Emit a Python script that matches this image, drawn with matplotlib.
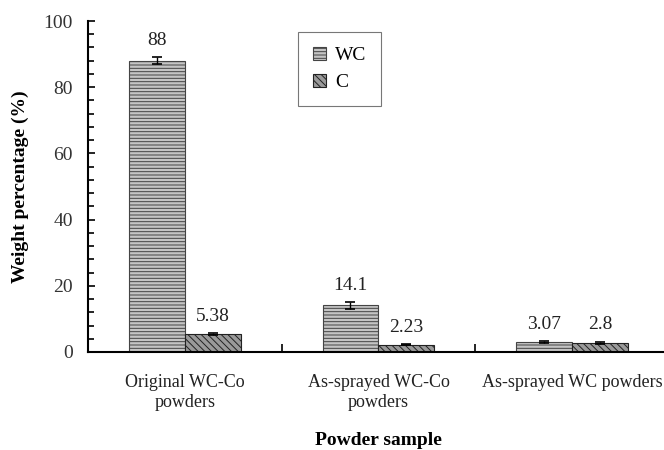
import matplotlib.pyplot as plt
import numpy as np

plt.rcParams['font.family'] = ['Liberation Serif', 'DejaVu Serif']
plt.rcParams['hatch.linewidth'] = 0.7

samples = ['Original WC-Co\npowders', 'As-sprayed WC-Co\npowders', 'As-sprayed WC powders']
wc = [88, 14.1, 3.07]
c = [5.38, 2.23, 2.8]
wc_err = [1.0, 1.0, 0.3]
c_err = [0.3, 0.2, 0.3]
wc_labels = ['88', '14.1', '3.07']
c_labels = ['5.38', '2.23', '2.8']

fig = plt.figure(figsize=(6.64, 4.5), dpi=100)
ax = fig.add_axes([0.1325, 0.2178, 0.8750, 0.7355])

x = np.arange(len(samples))
w = 0.289

plt.rcParams['hatch.color'] = '#6a6a6a'
ax.bar(x - w / 2, wc, w, color='#c4c4c4', edgecolor='#444444', hatch='-----',
       linewidth=0.8, label='WC', yerr=wc_err, capsize=3.5,
       error_kw=dict(elinewidth=1, capthick=1.2, ecolor='black'))
plt.rcParams['hatch.color'] = '#222222'
ax.bar(x + w / 2, c, w, color='#9a9a9a', edgecolor='#222222', hatch='\\\\\\\\\\',
       linewidth=0.8, label='C', yerr=c_err, capsize=3.5,
       error_kw=dict(elinewidth=1, capthick=1.2, ecolor='black'))

for xi, v, e, t in zip(x - w / 2, wc, wc_err, wc_labels):
    ax.text(xi, v + e + 2.5, t, ha='center', va='bottom', fontsize=14, color='#222222')
for xi, v, e, t in zip(x + w / 2, c, c_err, c_labels):
    ax.text(xi, v + e + 2.5, t, ha='center', va='bottom', fontsize=14, color='#222222')

ax.set_xlim(-0.5, 2.5)
ax.set_ylim(0, 100)
ax.set_yticks(np.arange(0, 101, 20))
ax.set_yticks(np.arange(0, 101, 4), minor=True)
ax.set_xticks(x)
ax.set_xticklabels(samples, fontsize=13, color='#222222')
ax.set_xticks([0.5, 1.5], minor=True)
ax.tick_params(axis='x', which='major', length=0, pad=16)
ax.tick_params(axis='x', which='minor', direction='in', length=6, width=1.2)
ax.tick_params(axis='y', which='both', direction='in', width=1.2, labelsize=14,
               labelcolor='#333333', pad=11)
ax.tick_params(axis='y', which='major', length=5)
ax.tick_params(axis='y', which='minor', length=4)

for s in ['top', 'right']:
    ax.spines[s].set_visible(False)
for s in ['left', 'bottom']:
    ax.spines[s].set_linewidth(1.5)

ax.set_ylabel('Weight percentage (%)', fontsize=14, fontweight='bold', labelpad=10)
ax.set_xlabel('Powder sample', fontsize=14, fontweight='bold', labelpad=15)

leg = ax.legend(loc='upper left', bbox_to_anchor=(0.362, 0.967), fontsize=14,
                fancybox=False, edgecolor='#555555', handlelength=0.7, handleheight=0.7,
                borderpad=0.75, labelspacing=0.5, handletextpad=0.45, borderaxespad=0)
leg.get_frame().set_linewidth(0.8)

fig.savefig('out.png', dpi=100)
